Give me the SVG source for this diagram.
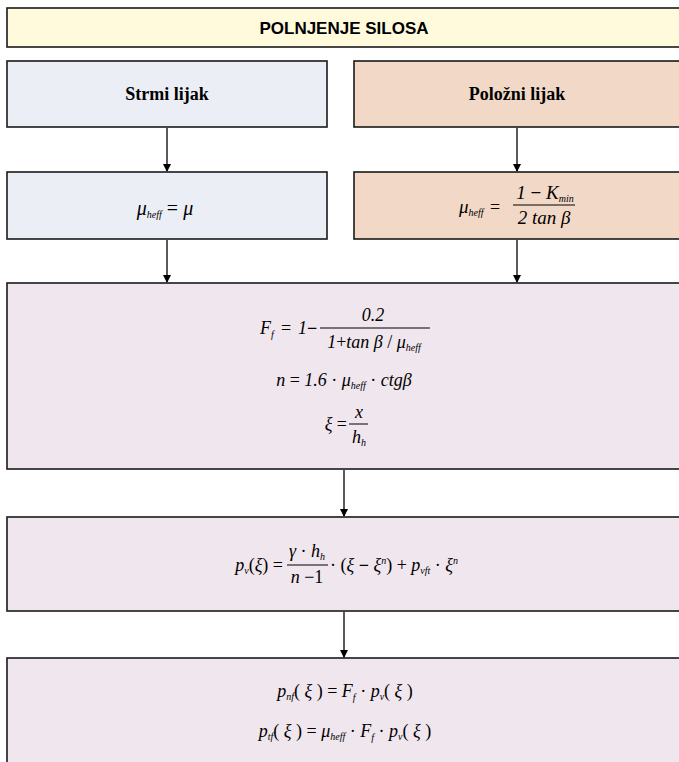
<svg xmlns="http://www.w3.org/2000/svg" width="679" height="762" viewBox="0 0 679 762">
<style>
.box{stroke:#1a1a1a;stroke-width:1.6}
.yel{fill:#FFFADC}
.blu{fill:#ECEEF6}
.org{fill:#F2D8C6}
.pnk{fill:#F0E6EE}
.ttl{font-family:"Liberation Sans",Arial,sans-serif;font-weight:bold;font-size:17px;fill:#000}
.hd{font-family:"Liberation Serif","Times New Roman",serif;font-weight:bold;font-size:18px;fill:#000}
.m{font-family:"Liberation Serif","Times New Roman",serif;font-style:italic;font-size:18px;fill:#000}
.u{font-style:normal}
.s{font-size:10px}
.bar{stroke:#000;stroke-width:1}
.con{stroke:#000;stroke-width:1.3;fill:none}
</style>
<defs>
<marker id="ah" markerWidth="8" markerHeight="10" refX="7" refY="4" orient="auto" markerUnits="userSpaceOnUse" viewBox="0 0 8 8">
<path d="M0,0 L8,4 L0,8 Z" fill="#000"/>
</marker>
</defs>
<g id="connectors">
<line class="con" x1="167" y1="128" x2="167" y2="171" marker-end="url(#ah)"/>
<line class="con" x1="517" y1="128" x2="517" y2="171" marker-end="url(#ah)"/>
<line class="con" x1="167" y1="240" x2="167" y2="282" marker-end="url(#ah)"/>
<line class="con" x1="517" y1="240" x2="517" y2="282" marker-end="url(#ah)"/>
<line class="con" x1="344" y1="470" x2="344" y2="516" marker-end="url(#ah)"/>
<line class="con" x1="344" y1="612" x2="344" y2="657" marker-end="url(#ah)"/>
</g>
<g id="title">
<rect class="box yel" x="7" y="8" width="690" height="39"/>
<text class="ttl" x="344" y="34" text-anchor="middle">POLNJENJE SILOSA</text>
</g>
<g id="strmi">
<rect class="box blu" x="7" y="61" width="320" height="66"/>
<text class="hd" x="167" y="100" text-anchor="middle">Strmi lijak</text>
</g>
<g id="polozni">
<rect class="box org" x="354" y="61" width="340" height="66"/>
<text class="hd" x="517" y="100" text-anchor="middle">Položni lijak</text>
</g>
<g id="strmi-mu">
<rect class="box blu" x="7" y="172" width="320" height="67"/>
<text class="m" x="165" y="215" text-anchor="middle" style="font-size:20px">μ<tspan class="s" dy="3">heff</tspan><tspan dy="-3"> <tspan class="u">=</tspan> μ</tspan></text>
</g>
<g id="polozni-mu">
<rect class="box org" x="354" y="172" width="340" height="67"/>
<text class="m" x="459" y="213" style="font-size:19px">μ<tspan class="s" dy="3">heff</tspan></text>
<text class="m u" x="490" y="213" style="font-style:normal">=</text>
<line class="bar" x1="513" y1="205" x2="575" y2="205"/>
<text class="m" x="545" y="199" text-anchor="middle" style="font-size:19px">1 <tspan class="u" font-weight="bold">−</tspan> K<tspan class="s" dy="3">min</tspan></text>
<text class="m" x="544" y="224" text-anchor="middle" style="font-size:19px">2 tan β</text>
</g>
<g id="ff-box">
<rect class="box pnk" x="7" y="283" width="690" height="186"/>
<text class="m" x="260" y="334">F<tspan class="s" dy="4">f</tspan></text>
<text class="m u" x="281" y="334">=</text>
<text class="m" x="298" y="334">1</text>
<text class="m u" x="307" y="334" font-weight="bold">−</text>
<line class="bar" x1="320" y1="328" x2="430" y2="328"/>
<text class="m" x="373" y="321" text-anchor="middle">0.2</text>
<text class="m" x="374" y="348" text-anchor="middle">1<tspan class="u">+</tspan>tan β <tspan class="u">/</tspan> μ<tspan class="s" dy="3">heff</tspan></text>
<text class="m" x="344" y="386" text-anchor="middle">n <tspan class="u">=</tspan> 1.6 <tspan class="u">·</tspan> μ<tspan class="s" dy="3">heff</tspan><tspan dy="-3"> <tspan class="u">·</tspan> ctgβ</tspan></text>
<text class="m" x="347" y="430" text-anchor="end">ξ <tspan class="u">=</tspan></text>
<line class="bar" x1="349" y1="424" x2="368" y2="424"/>
<text class="m" x="359" y="418" text-anchor="middle">x</text>
<text class="m" x="359" y="443" text-anchor="middle">h<tspan class="s" dy="3">h</tspan></text>
</g>
<g id="pv-box">
<rect class="box pnk" x="7" y="517" width="690" height="94"/>
<text class="m" x="283" y="571" text-anchor="end">p<tspan class="s" dy="3">v</tspan><tspan dy="-3" class="u">(</tspan>ξ<tspan class="u">) =</tspan></text>
<line class="bar" x1="287" y1="565" x2="328" y2="565"/>
<text class="m" x="307" y="557" text-anchor="middle">γ <tspan class="u">·</tspan> h<tspan class="s" dy="3">h</tspan></text>
<text class="m" x="307" y="583" text-anchor="middle">n <tspan class="u">−1</tspan></text>
<text class="m" x="330" y="571"><tspan class="u">· (</tspan>ξ <tspan class="u" font-weight="bold">−</tspan> ξ<tspan class="s" dy="-7">n</tspan><tspan class="u" dy="7">) +</tspan> p<tspan class="s" dy="3">vft</tspan><tspan class="u" dy="-3"> · </tspan>ξ<tspan class="s" dy="-7">n</tspan></text>
</g>
<g id="p-box">
<rect class="box pnk" x="7" y="658" width="690" height="110"/>
<text class="m" x="345" y="697" text-anchor="middle">p<tspan class="s" dy="3">nf</tspan><tspan class="u" dy="-3">( </tspan>ξ<tspan class="u"> ) = </tspan>F<tspan class="s" dy="4">f</tspan><tspan class="u" dy="-4"> · </tspan>p<tspan class="s" dy="3">v</tspan><tspan class="u" dy="-3">( </tspan>ξ<tspan class="u"> )</tspan></text>
<text class="m" x="345" y="737" text-anchor="middle">p<tspan class="s" dy="3">tf</tspan><tspan class="u" dy="-3">( </tspan>ξ<tspan class="u"> ) = </tspan>μ<tspan class="s" dy="3">heff</tspan><tspan class="u" dy="-3"> · </tspan>F<tspan class="s" dy="4">f</tspan><tspan class="u" dy="-4"> · </tspan>p<tspan class="s" dy="3">v</tspan><tspan class="u" dy="-3">( </tspan>ξ<tspan class="u"> )</tspan></text>
</g>
</svg>
